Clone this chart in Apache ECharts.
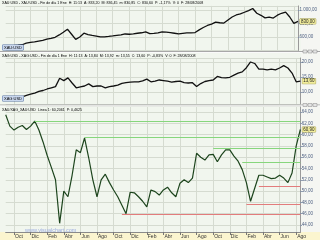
<!DOCTYPE html>
<html><head><meta charset="utf-8">
<script src="https://cdn.jsdelivr.net/npm/echarts@6/dist/echarts.min.js"></script>
<style>html,body{margin:0;padding:0;background:#f1f6ee;overflow:hidden}#c{width:320px;height:240px}</style>
</head><body><div id="c"></div>
<script>
// ---- data (half-month samples, Sep 2005 .. Aug 2008) ----
const tickIndex  = [0, 2, 6, 10, 14, 18, 22, 26, 30, 34, 38, 42, 46, 50, 54, 58, 62, 66, 70];
const tickLabels = ['Sep','Oct','Dic','Feb','Abr','Jun','Ago','Oct','Dic','Feb','Abr','Jun','Ago','Oct','Dic','Feb','Abr','Jun','Ago'];
const goldValues = [465,470,472,478,485,510,520,528,540,550,568,580,595,630,670,715,640,565,600,655,635,622,612,600,602,608,615,625,632,644,640,646,655,662,674,648,652,660,675,670,665,655,645,652,659,660,665,705,740,770,790,820,810,805,850,895,925,940,965,990,1020,950,920,882,893,880,922,950,968,895,800,830];
const silverValues = [8.0,8.1,8.2,8.3,8.4,8.9,9.3,9.6,10.2,10.5,11.0,11.4,11.8,14.6,13.8,14.7,13.0,11.4,11.7,12.0,12.7,11.8,12.0,12.0,11.4,11.8,12.0,12.3,12.9,13.1,13.3,13.4,13.4,13.7,14.3,13.4,13.6,14.0,13.8,13.6,13.3,13.5,13.6,13.1,13.0,13.1,11.8,12.8,13.5,13.8,14.0,15.2,14.8,14.7,14.9,15.6,16.3,16.7,18.1,20.0,19.5,17.6,17.6,17.4,17.6,17.4,18.0,18.8,18.0,16.3,13.4,13.6];
const ratioValues = [63.5,61.5,60.8,61.3,61.6,60.9,61.5,62.4,60.8,58.7,56.3,54.2,52.0,44.3,50.0,49.0,52.8,57.3,56.8,59.4,55.9,52.0,49.0,52.0,53.0,51.5,50.2,49.0,47.5,46.0,49.8,49.7,49.0,48.2,47.2,50.2,49.9,49.3,50.2,50.7,49.7,49.0,51.4,52.0,51.5,52.3,56.7,56.0,55.5,56.4,56.5,55.2,56.4,57.3,57.3,56.2,55.3,53.8,51.5,48.2,50.5,52.8,52.8,52.5,52.2,52.3,52.8,52.3,51.5,53.2,58.0,60.9];
const resistanceStart = [7, 19, 50, 57];
const resistanceLevel = [62.3, 59.6, 57.6, 55.1];
const supportStart = [28, 58, 61];
const supportLevel = [45.9, 47.6, 50.9];

// ---- categories ----
const categories = [];
for (let i = 0; i < goldValues.length; i++) {
  const m = 8 + Math.floor(i / 2); const y = 2005 + Math.floor(m / 12);
  categories.push(y + '-' + String(m % 12 + 1).padStart(2, '0') + (i % 2 ? '-16' : '-01'));
}
const lastIdx = categories.length - 1;
const tickMap = {}; tickIndex.forEach((t, k) => tickMap[t] = tickLabels[k]);

function fmtNum(v) {
  const parts = v.toFixed(2).split('.');
  parts[0] = parts[0].replace(/\B(?=(\d{3})+(?!\d))/g, '.');
  return parts[0] + ',' + parts[1];
}
function stepFmt(step) {
  return v => (Math.abs(v / step - Math.round(v / step)) < 1e-6) ? fmtNum(v) : '';
}

const FONT = 'Liberation Sans';
const GRID_L = 5.7, GRID_R = 19.65;
const gridLine = '#d5dbd0';
const splitX = (i) => i % 4 === 2;

function xAx(g, bottom) {
  return {
    type: 'category', gridIndex: g, data: categories, boundaryGap: false,
    axisLine: { show: bottom, lineStyle: { color: '#8a8a8a', width: 1 } },
    axisTick: { show: bottom, interval: (i) => tickMap[i] !== undefined, length: 3, lineStyle: { color: '#777' } },
    axisLabel: { show: bottom, interval: (i) => tickMap[i] !== undefined, formatter: (v, i) => tickMap[i] || '',
      align: 'left', margin: 2, fontSize: 5, color: '#333', fontFamily: FONT, padding: [0, 0, 0, 1] },
    splitLine: { show: true, interval: splitX, lineStyle: { color: gridLine, width: 1 } }
  };
}
function yAx(g, min, max, split, step) {
  return {
    type: 'value', gridIndex: g, position: 'right', min: min, max: max, splitNumber: split,
    axisLine: { show: true, lineStyle: { color: '#9a9a9a' } },
    axisTick: { show: true, length: 1.5, lineStyle: { color: '#8090a8' } },
    axisLabel: { fontSize: 4.5, color: '#4d5f80', margin: 1.5, fontFamily: FONT, formatter: stepFmt(step),
      showMinLabel: false, showMaxLabel: false },
    splitLine: { show: true, lineStyle: { color: gridLine, width: 1 } }
  };
}
function endLbl() {
  return { show: true, formatter: (p) => fmtNum(p.value), fontSize: 4.5, color: '#222', fontFamily: FONT,
    backgroundColor: '#f3ee9c', borderColor: '#a09a50', borderWidth: 0.5, padding: [0, 1], distance: 2 };
}
const hdrRich = {
  k: { fontSize: 3.6, color: '#333', fontFamily: FONT },
  v: { fontSize: 3.6, color: '#2c4fb0', fontFamily: FONT },
  r: { fontSize: 3.6, color: '#e02020', fontFamily: FONT }
};
const boxRich = { b: { fontSize: 4, color: '#223', fontFamily: FONT, backgroundColor: '#c9d7ee', borderColor: '#5570a0', borderWidth: 0.5, padding: [0.5, 1.5] } };

const levelLines = [];
resistanceLevel.forEach((v, k) => levelLines.push([{ coord: [resistanceStart[k], v], lineStyle: { color: '#86d67c' } }, { coord: [lastIdx, v] }]));
supportLevel.forEach((v, k) => levelLines.push([{ coord: [supportStart[k], v], lineStyle: { color: '#e27c7c' } }, { coord: [lastIdx, v] }]));

const btn = (x, y) => ({ type: 'rect', z: 6, shape: { x: x, y: y, width: 4, height: 3 }, style: { fill: '#e4e4e4', stroke: '#888', lineWidth: 0.5 } });

const chart = echarts.init(document.getElementById('c'), null, { renderer: 'canvas' });
chart.setOption({
  animation: false,
  backgroundColor: '#f1f6ee',
  grid: [
    { left: GRID_L, right: GRID_R, top: 5.9, height: 44.6 },
    { left: GRID_L, right: GRID_R, top: 58, height: 46 },
    { left: GRID_L, right: GRID_R, top: 106, height: 126 }
  ],
  xAxis: [xAx(0, false), xAx(1, false), xAx(2, true)],
  yAxis: [yAx(0, 400, 1059, 3, 200), yAx(1, 6, 21.33, 3, 5), yAx(2, 42.76, 65.06, 11, 2)],
  graphic: [
    { type: 'rect', z: -5, shape: { x: 301, y: 0, width: 19, height: 232 }, style: { fill: '#f5f6f2' } },
    { type: 'rect', z: -5, shape: { x: 0, y: 232, width: 320, height: 8 }, style: { fill: '#fbf5cf' } },
    { type: 'rect', z: 5, shape: { x: 0, y: 51, width: 320, height: 1 }, style: { fill: '#a8a8a8' } },
    { type: 'rect', z: 5, shape: { x: 0, y: 52, width: 320, height: 1 }, style: { fill: '#fafafa' } },
    { type: 'rect', z: 5, shape: { x: 0, y: 104.5, width: 320, height: 1 }, style: { fill: '#a8a8a8' } },
    { type: 'rect', z: 5, shape: { x: 0, y: 105.5, width: 320, height: 1 }, style: { fill: '#fafafa' } },
    btn(303, 50), btn(308, 50), btn(313, 50), btn(303, 103.5), btn(308, 103.5), btn(313, 103.5),
    { type: 'text', z: 10, left: 2, top: 1, style: { rich: hdrRich,
      text: '{k|XAU:USD - XAU:USD - Fin de día 1 Ene  H: }{v|11:13}{k|  A: }{v|833,20}{k|  M: }{v|836,45}{k|  m: }{v|830,85}{k|  C: }{v|830,60}{k|  P: }{r|-1,17%}{k|  V: }{v|0}{k|  F: }{v|28/08/2008}' } },
    { type: 'text', z: 10, left: 2, top: 54, style: { rich: hdrRich,
      text: '{k|XAG:USD - XAG:USD - Fin de día 1 Ene  H: }{v|11:13}{k|  A: }{v|13,84}{k|  M: }{v|13,92}{k|  m: }{v|13,55}{k|  C: }{v|13,60}{k|  P: }{r|-0,83%}{k|  V: }{v|0}{k|  F: }{v|28/08/2008}' } },
    { type: 'text', z: 10, left: 2, top: 107.5, style: { rich: hdrRich,
      text: '{k|XAU/XAG_XAU:USD  Linea 1: }{v|60,2061}{k|  P: }{r|0,4625}' } },
    { type: 'text', z: 10, left: 2, top: 44.5, style: { rich: boxRich, text: '{b|XAU:USD}' } },
    { type: 'text', z: 10, left: 2, top: 95.5, style: { rich: boxRich, text: '{b|XAG:USD}' } },
    { type: 'text', z: 10, left: 25, top: 227, style: { text: 'www.visualchart.com', fontSize: 5.5, fill: '#9eaede', fontFamily: FONT } }
  ],
  series: [
    { type: 'line', xAxisIndex: 0, yAxisIndex: 0, data: goldValues, symbol: 'none', lineStyle: { color: '#111', width: 1.3 }, endLabel: endLbl() },
    { type: 'line', xAxisIndex: 1, yAxisIndex: 1, data: silverValues, symbol: 'none', lineStyle: { color: '#111', width: 1.3 }, endLabel: endLbl() },
    { type: 'line', xAxisIndex: 2, yAxisIndex: 2, data: ratioValues, symbol: 'none', lineStyle: { color: '#1d451d', width: 1.2 }, endLabel: endLbl(),
      markLine: { silent: true, symbol: 'none', label: { show: false }, lineStyle: { type: 'solid', width: 1 }, data: levelLines } }
  ]
});
</script></body></html>
